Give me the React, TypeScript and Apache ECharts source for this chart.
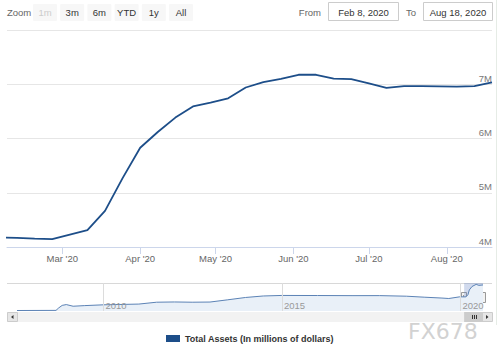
import React, { useEffect, useRef } from 'react';
import * as echarts from 'echarts';

const seriesName = 'Total Assets (In millions of dollars)';

const mainDates = [
  '2020-02-05', '2020-02-12', '2020-02-19', '2020-02-26', '2020-03-04', '2020-03-11', '2020-03-18',
  '2020-03-25', '2020-04-01', '2020-04-08', '2020-04-15', '2020-04-22', '2020-04-29', '2020-05-06',
  '2020-05-13', '2020-05-20', '2020-05-27', '2020-06-03', '2020-06-10', '2020-06-17', '2020-06-24',
  '2020-07-01', '2020-07-08', '2020-07-15', '2020-07-22', '2020-07-29', '2020-08-05', '2020-08-12',
  '2020-08-19',
];
const mainValues = [
  4172000, 4170000, 4155000, 4145000, 4230000, 4310000, 4665000,
  5270000, 5830000, 6120000, 6385000, 6590000, 6660000, 6740000,
  6940000, 7040000, 7100000, 7175000, 7175000, 7105000, 7095000,
  7015000, 6935000, 6965000, 6965000, 6960000, 6955000, 6965000,
  7035000,
];

const navDates = [
  '2007-08-01', '2008-09-03', '2008-10-01', '2008-11-05', '2008-12-17', '2009-02-25', '2009-06-24',
  '2009-12-30', '2010-06-30', '2010-12-29', '2011-06-29', '2011-12-28', '2012-06-27', '2012-12-26',
  '2013-06-26', '2013-12-25', '2014-06-25', '2014-12-31', '2015-12-30', '2016-12-28', '2017-09-27',
  '2018-06-27', '2018-12-26', '2019-06-26', '2019-09-04', '2019-12-25', '2020-02-26', '2020-03-18',
  '2020-04-01', '2020-04-29', '2020-06-10', '2020-07-08', '2020-08-19',
];
const navValues = [
  870000, 900000, 1500000, 2100000, 2300000, 1900000, 2050000,
  2240000, 2330000, 2420000, 2870000, 2930000, 2870000, 2910000,
  3450000, 4010000, 4370000, 4500000, 4480000, 4450000, 4460000,
  4320000, 4080000, 3870000, 3760000, 4170000, 4150000, 4670000,
  5830000, 6660000, 7170000, 6930000, 7030000,
];

const monthTickDates = ['2020-03-01', '2020-04-01', '2020-05-01', '2020-06-01', '2020-07-01', '2020-08-01'];
const monthTickLabels = ["Mar '20", "Apr '20", "May '20", "Jun '20", "Jul '20", "Aug '20"];
const yearTickDates = ['2010-01-01', '2015-01-01', '2020-01-01'];
const yearTickLabels = ['2010', '2015', '2020'];
const yTickValues = [4000000, 5000000, 6000000, 7000000, 8000000];
const yTickLabels = ['4M', '5M', '6M', '7M', '8M'];

const rangeButtons = ['1m', '3m', '6m', 'YTD', '1y', 'All'];
const fromText = 'Feb 8, 2020';
const toText = 'Aug 18, 2020';
const viewStart = '2020-02-08';
const viewEnd = '2020-08-19';
const navStart = '2007-08-01';
const navEnd = '2020-08-19';
const watermark = 'FX678';

const ts = (s: string) => Date.parse(s + 'T00:00:00Z');
const FONT = '"Liberation Sans", Arial, sans-serif';

export default function App() {
  const ref = useRef<HTMLDivElement>(null);
  useEffect(() => {
    if (!ref.current) return;
    const chart = echarts.init(ref.current, undefined, { renderer: 'svg' });
    const monthTs = monthTickDates.map(ts);
    const yearTs = yearTickDates.map(ts);
    chart.setOption({
      animation: false,
      textStyle: { fontFamily: FONT },
      legend: {
        data: [seriesName],
        left: 161,
        top: 329,
        icon: 'rect',
        itemWidth: 14,
        itemHeight: 7,
        itemGap: 5,
        textStyle: { fontSize: 9, fontWeight: 'bold', color: '#333', fontFamily: FONT },
      },
      grid: [
        { left: 7, top: 30, width: 485, height: 217 },
        { left: 17, top: 283, width: 466, height: 28 },
      ],
      xAxis: [
        {
          type: 'value',
          gridIndex: 0,
          min: ts(viewStart),
          max: ts(viewEnd),
          axisLine: { show: true, lineStyle: { color: '#ccd6eb' } },
          axisTick: { show: true, customValues: monthTs, length: 7, lineStyle: { color: '#ccd6eb' } },
          axisLabel: {
            customValues: monthTs,
            margin: 6,
            fontSize: 9.5,
            color: '#666',
            fontFamily: FONT,
            formatter: (v: number) => {
              const i = monthTs.indexOf(v);
              return i >= 0 ? monthTickLabels[i] : '';
            },
          },
          splitLine: { show: false },
        },
        {
          type: 'value',
          gridIndex: 1,
          z: 10,
          min: ts(navStart),
          max: ts(navEnd),
          axisLine: { show: false },
          axisTick: { show: false, customValues: yearTs },
          axisLabel: {
            customValues: yearTs,
            inside: true,
            margin: 1,
            align: 'left',
            padding: [0, 0, 0, 2],
            fontSize: 9.5,
            color: '#999',
            fontFamily: FONT,
            formatter: (v: number) => {
              const i = yearTs.indexOf(v);
              return i >= 0 ? yearTickLabels[i] : '';
            },
          },
          splitLine: { show: false },
        },
      ],
      yAxis: [
        {
          type: 'value',
          gridIndex: 0,
          position: 'right',
          min: yTickValues[0],
          max: yTickValues[yTickValues.length - 1],
          interval: 1000000,
          axisLine: { show: false },
          axisTick: { show: false },
          axisLabel: {
            inside: true,
            margin: 0,
            verticalAlign: 'bottom',
            padding: [0, 0, 1, 0],
            fontSize: 9.5,
            color: '#777',
            fontFamily: FONT,
            showMaxLabel: false,
            formatter: (v: number) => {
              const i = yTickValues.indexOf(v);
              return i >= 0 ? yTickLabels[i] : '';
            },
          },
          splitLine: { show: true, lineStyle: { color: '#e6e6e6' } },
        },
        {
          type: 'value',
          gridIndex: 1,
          min: 750000,
          max: 7500000,
          show: false,
          splitLine: { show: false },
        },
      ],
      series: [
        {
          name: seriesName,
          type: 'line',
          xAxisIndex: 0,
          yAxisIndex: 0,
          showSymbol: false,
          clip: true,
          color: '#1d4e89',
          lineStyle: { width: 1.8, color: '#1d4e89' },
          data: mainDates.map((d, i) => [ts(d), mainValues[i]]),
        },
        {
          name: 'navigator',
          type: 'line',
          xAxisIndex: 1,
          yAxisIndex: 1,
          showSymbol: false,
          symbol: 'none',
          color: '#5b82b5',
          lineStyle: { width: 1, color: '#5b82b5' },
          areaStyle: { color: '#e9f0f8', opacity: 1 },
          data: navDates.map((d, i) => [ts(d), navValues[i]]),
          markLine: {
            silent: true,
            symbol: 'none',
            label: { show: false },
            lineStyle: { color: '#dcdcdc', width: 1, type: 'solid' },
            data: yearTs.map((t) => ({ xAxis: t })),
          },
          markArea: {
            silent: true,
            itemStyle: { color: 'rgba(102,133,194,0.3)' },
            data: [[{ xAxis: ts(viewStart) }, { xAxis: ts(viewEnd) }]],
          },
        },
      ],
    });

    const x0 = chart.convertToPixel({ xAxisIndex: 1 }, ts(viewStart)) as number;
    const x1 = chart.convertToPixel({ xAxisIndex: 1 }, ts(viewEnd)) as number;
    const graphics: any[] = [];
    graphics.push({
      type: 'text', x: 7, y: 12,
      style: { text: 'Zoom', fill: '#666', fontSize: 9.5, fontFamily: FONT, verticalAlign: 'middle' },
    });
    rangeButtons.forEach((b, i) => {
      const bx = 33 + i * 27.2;
      graphics.push({
        type: 'rect', shape: { x: bx, y: 4, width: 24, height: 17, r: 1 },
        style: { fill: '#f7f7f7' },
      });
      graphics.push({
        type: 'text', x: bx + 12, y: 12.5,
        style: {
          text: b, fill: i === 0 ? '#ccc' : '#333', fontSize: 9.5, fontFamily: FONT,
          align: 'center', verticalAlign: 'middle',
        },
      });
    });
    graphics.push({
      type: 'text', x: 321, y: 12,
      style: { text: 'From', fill: '#666', fontSize: 9.5, fontFamily: FONT, align: 'right', verticalAlign: 'middle' },
    });
    graphics.push({
      type: 'rect', shape: { x: 328.5, y: 2.5, width: 70, height: 18 },
      style: { fill: '#fff', stroke: '#ccc', lineWidth: 1 },
    });
    graphics.push({
      type: 'text', x: 363.5, y: 12,
      style: { text: fromText, fill: '#333', fontSize: 9.5, fontFamily: FONT, align: 'center', verticalAlign: 'middle' },
    });
    graphics.push({
      type: 'text', x: 416, y: 12,
      style: { text: 'To', fill: '#666', fontSize: 9.5, fontFamily: FONT, align: 'right', verticalAlign: 'middle' },
    });
    graphics.push({
      type: 'rect', shape: { x: 423.5, y: 2.5, width: 69, height: 18 },
      style: { fill: '#fff', stroke: '#ccc', lineWidth: 1 },
    });
    graphics.push({
      type: 'text', x: 458, y: 12,
      style: { text: toText, fill: '#333', fontSize: 9.5, fontFamily: FONT, align: 'center', verticalAlign: 'middle' },
    });
    graphics.push({
      type: 'line', shape: { x1: 7, y1: 283.5, x2: 492, y2: 283.5 },
      style: { stroke: '#d8d8d8', lineWidth: 1 },
    });
    [x0, x1].forEach((hx) => {
      graphics.push({
        type: 'rect', shape: { x: Math.round(hx) - 2.5, y: 292.5, width: 5, height: 10 },
        style: { fill: '#f2f2f2', stroke: '#999', lineWidth: 1 },
      });
      graphics.push({
        type: 'line', shape: { x1: Math.round(hx) - 0.5, y1: 295, x2: Math.round(hx) - 0.5, y2: 300 },
        style: { stroke: '#999', lineWidth: 1 },
      });
    });
    graphics.push({
      type: 'rect', shape: { x: 7, y: 312, width: 485, height: 10 },
      style: { fill: '#f2f2f2' },
    });
    graphics.push({
      type: 'rect', shape: { x: 7.5, y: 312.5, width: 10, height: 9 },
      style: { fill: '#e6e6e6', stroke: '#ccc', lineWidth: 1 },
    });
    graphics.push({
      type: 'polygon', shape: { points: [[13.5, 315], [13.5, 319], [11, 317]] },
      style: { fill: '#333' },
    });
    graphics.push({
      type: 'rect', shape: { x: 482.5, y: 312.5, width: 10, height: 9 },
      style: { fill: '#e6e6e6', stroke: '#ccc', lineWidth: 1 },
    });
    graphics.push({
      type: 'polygon', shape: { points: [[486, 315], [486, 319], [488.5, 317]] },
      style: { fill: '#333' },
    });
    graphics.push({
      type: 'rect', shape: { x: x0, y: 312, width: x1 - x0, height: 10 },
      style: { fill: '#cccccc' },
    });
    const mid = (x0 + x1) / 2;
    [-2, 0, 2].forEach((d) => {
      graphics.push({
        type: 'line', shape: { x1: Math.round(mid) + d + 0.5, y1: 315, x2: Math.round(mid) + d + 0.5, y2: 319 },
        style: { stroke: '#333', lineWidth: 1 },
      });
    });
    graphics.push({
      type: 'text', x: 408, y: 320,
      style: { text: watermark, fill: '#d2d2d2', fontSize: 22, fontFamily: '"DejaVu Sans", sans-serif' },
    });
    graphics.push({
      type: 'line', shape: { x1: 496.5, y1: 0, x2: 496.5, y2: 325 },
      style: { stroke: '#e6ece6', lineWidth: 1 },
    });
    chart.setOption({ graphic: graphics });
    return () => chart.dispose();
  }, []);
  return (
    <div
      ref={ref}
      style={{ position: 'fixed', left: 0, top: 0, width: 500, height: 355, background: '#fff' }}
    />
  );
}
